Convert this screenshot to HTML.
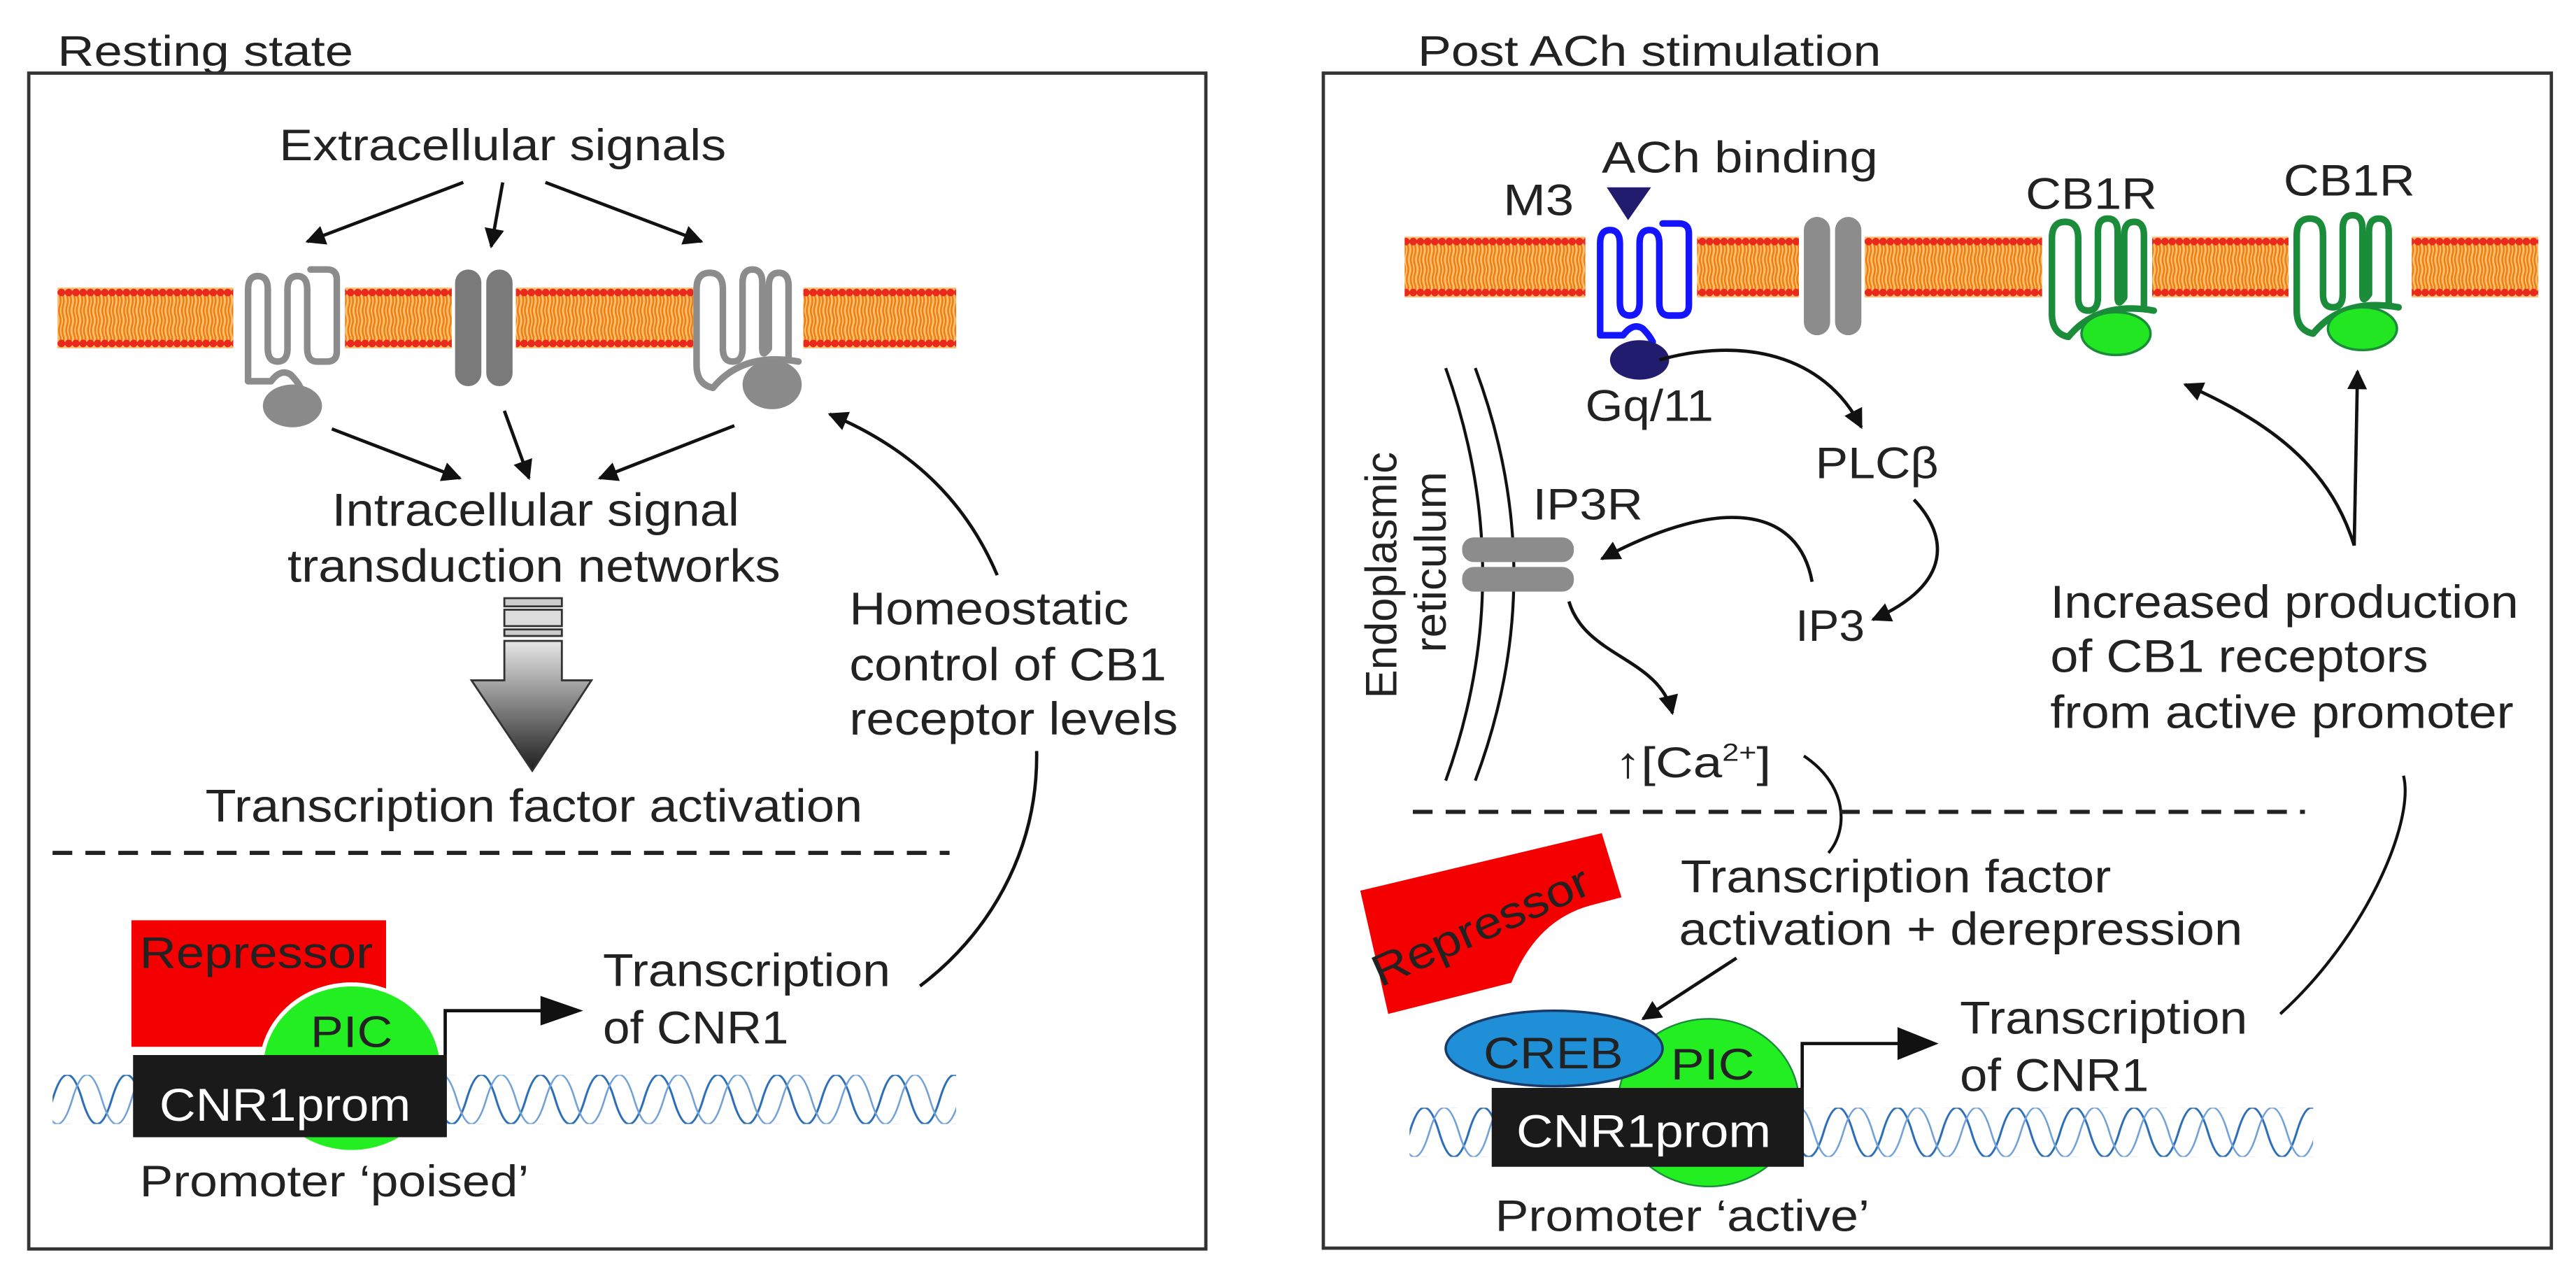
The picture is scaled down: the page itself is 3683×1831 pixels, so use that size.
<!DOCTYPE html>
<html><head><meta charset="utf-8"><style>
html,body{margin:0;padding:0;background:#fff;}
svg{display:block;}
text{font-family:"Liberation Sans",Arial,sans-serif;fill:#222;}
</style></head><body>
<svg width="3683" height="1831" viewBox="0 0 1568 779.5" preserveAspectRatio="none" xmlns="http://www.w3.org/2000/svg">
<defs>
<marker id="ah" viewBox="0 0 10 10" refX="9" refY="5" markerWidth="15" markerHeight="12" markerUnits="userSpaceOnUse" orient="auto"><path d="M0,0 L10,5 L0,10 z" fill="#111"/></marker>
<g id="memtile">
<rect width="4.4" height="37" fill="#f9c070"/>
<path d="M1.2,5 q1,3 0,6 q-1,3 0,6 q1,3 0,6 q-1,3 0,6 q1,2 0,4" stroke="#ef7d10" stroke-width="1.1" fill="none"/>
<path d="M3.2,5 q1,3 0,6 q-1,3 0,6 q1,3 0,6 q-1,3 0,6 q1,2 0,4" stroke="#ef7d10" stroke-width="1.1" fill="none"/>
<circle cx="2.2" cy="3" r="2.3" fill="#e8291c"/>
<circle cx="2.2" cy="34" r="2.3" fill="#e8291c"/>
</g>
<pattern id="mem1" x="0" y="175" width="4.4" height="37" patternUnits="userSpaceOnUse"><use href="#memtile"/></pattern>
<pattern id="mem2" x="0" y="144" width="4.4" height="37" patternUnits="userSpaceOnUse"><use href="#memtile"/></pattern>
<g id="dnatile">
<path d="M-36,15 Q-27,-15 -18,15 Q-9,45 0,15 Q9,-15 18,15 Q27,45 36,15 Q45,-15 54,15" stroke="#2a6db5" stroke-width="1.3" fill="none"/>
<path d="M-24,15 Q-15,-15 -6,15 Q3,45 12,15 Q21,-15 30,15 Q39,45 48,15" stroke="#6f9fd6" stroke-width="1.1" fill="none"/>
</g>
<pattern id="dnaL" x="32" y="654" width="36" height="30" patternUnits="userSpaceOnUse"><use href="#dnatile"/></pattern>
<pattern id="dnaR" x="858" y="674" width="36" height="30" patternUnits="userSpaceOnUse"><use href="#dnatile"/></pattern>
<linearGradient id="gr" x1="0" y1="0" x2="0" y2="1"><stop offset="0" stop-color="#e6e6e6"/><stop offset="1" stop-color="#1e1e1e"/></linearGradient>
<path id="recA" d="M4,70 V14 Q4,6 10,6 Q16,6 16,14 V50 Q16,58 22,58 Q28,58 28,50 V14 Q28,6 34,6 Q40,6 40,14 V50 Q40,58 46,58 H52 Q58,58 58,52 V8 Q58,2 52,2 H42 M4,70 H18 Q24,62 30,66 Q34,70 36,74" fill="none" stroke-width="4" stroke-linejoin="round" stroke-linecap="round"/>
<path id="recB" d="M12,74 Q2,72 2,60 V14 Q2,4 10,4 Q18,4 18,14 V50 Q18,58 24,58 Q30,58 30,50 V10 Q30,2 36,2 Q42,2 42,10 V50 Q42,56 46,50 V12 Q46,4 52,4 Q58,4 58,12 V56 M12,74 Q30,52 64,58" fill="none" stroke-width="4" stroke-linejoin="round" stroke-linecap="round"/>
</defs>

<!-- LEFT PANEL -->
<text x="35" y="40" font-size="26" textLength="180" lengthAdjust="spacingAndGlyphs">Resting state</text>
<rect x="17.5" y="44.5" width="716.5" height="715.5" fill="none" stroke="#333" stroke-width="2"/>
<text x="170" y="97.5" font-size="27" textLength="272" lengthAdjust="spacingAndGlyphs">Extracellular signals</text>
<g stroke="#111" stroke-width="2" fill="none" marker-end="url(#ah)">
<line x1="282" y1="111" x2="187" y2="147"/>
<line x1="306" y1="111" x2="299" y2="150"/>
<line x1="332" y1="111" x2="427" y2="147"/>
<line x1="202" y1="261" x2="280" y2="291"/>
<line x1="307" y1="250" x2="322" y2="291"/>
<line x1="447" y1="259" x2="365" y2="291"/>
<path d="M607,350 C590,310 560,275 505,252"/>
</g>
<path d="M631,457 C632,520 600,570 560,600" stroke="#111" stroke-width="2" fill="none"/>
<!-- membrane left -->
<rect x="35" y="175" width="107" height="37" fill="url(#mem1)"/>
<rect x="210" y="175" width="65" height="37" fill="url(#mem1)"/>
<rect x="314" y="175" width="108" height="37" fill="url(#mem1)"/>
<rect x="489" y="175" width="93" height="37" fill="url(#mem1)"/>
<use href="#recA" x="147" y="162" stroke="#8c8c8c"/>
<ellipse cx="178" cy="247" rx="18" ry="13" fill="#8a8a8a"/>
<rect x="277" y="164" width="16" height="71" rx="8" fill="#7a7a7a"/>
<rect x="296" y="164" width="16" height="71" rx="8" fill="#7a7a7a"/>
<use href="#recB" x="422" y="162" stroke="#8c8c8c"/>
<ellipse cx="470" cy="234" rx="18" ry="15" fill="#8a8a8a"/>

<text x="202" y="320" font-size="28" textLength="248" lengthAdjust="spacingAndGlyphs">Intracellular signal</text>
<text x="175" y="354" font-size="28" textLength="300" lengthAdjust="spacingAndGlyphs">transduction networks</text>
<g stroke="#333" stroke-width="1.2">
<rect x="307" y="364" width="35" height="5" fill="#ccc"/>
<rect x="307" y="371" width="35" height="10" fill="#ddd"/>
<rect x="307" y="383" width="35" height="4" fill="#ccc"/>
<path d="M307,390 H342 V414 H360 L324,469 L287,414 H307 Z" fill="url(#gr)"/>
</g>
<text x="517" y="380" font-size="28" textLength="170" lengthAdjust="spacingAndGlyphs">Homeostatic</text>
<text x="517" y="414" font-size="28" textLength="193" lengthAdjust="spacingAndGlyphs">control of CB1</text>
<text x="517" y="447" font-size="28" textLength="200" lengthAdjust="spacingAndGlyphs">receptor levels</text>
<text x="125" y="500" font-size="28" textLength="400" lengthAdjust="spacingAndGlyphs">Transcription factor activation</text>
<line x1="32" y1="519" x2="578" y2="519" stroke="#222" stroke-width="2.5" stroke-dasharray="12,8"/>
<rect x="32" y="654" width="550" height="30" fill="url(#dnaL)"/>
<rect x="80" y="560" width="155" height="77" fill="#f40000"/>
<text x="85" y="589" font-size="27" textLength="142" lengthAdjust="spacingAndGlyphs">Repressor</text>
<ellipse cx="214" cy="650" rx="55" ry="51" fill="#22ee22" stroke="#fff" stroke-width="2.5"/>
<text x="189" y="637" font-size="27" textLength="50" lengthAdjust="spacingAndGlyphs">PIC</text>
<rect x="81" y="642" width="191" height="50" fill="#1a1a1a"/>
<text x="97" y="682" font-size="28" textLength="153" lengthAdjust="spacingAndGlyphs" style="fill:#fff">CNR1prom</text>
<path d="M271,642 V615 H340" stroke="#111" stroke-width="2" fill="none"/>
<path d="M329,606 L355,615 L329,624 Z" fill="#111"/>
<text x="367" y="600" font-size="28" textLength="175" lengthAdjust="spacingAndGlyphs">Transcription</text>
<text x="367" y="635" font-size="28" textLength="113" lengthAdjust="spacingAndGlyphs">of CNR1</text>
<text x="85" y="728" font-size="27" textLength="237" lengthAdjust="spacingAndGlyphs">Promoter ‘poised’</text>

<!-- RIGHT PANEL -->
<text x="863" y="40" font-size="26" textLength="282" lengthAdjust="spacingAndGlyphs">Post ACh stimulation</text>
<rect x="805.5" y="44.5" width="747.5" height="715" fill="none" stroke="#333" stroke-width="2"/>
<text x="975" y="105" font-size="27" textLength="168" lengthAdjust="spacingAndGlyphs">ACh binding</text>
<text x="915" y="131" font-size="27" textLength="43" lengthAdjust="spacingAndGlyphs">M3</text>
<path d="M978,114 H1005 L991,134 Z" fill="#211c6e"/>
<text x="1233" y="127" font-size="27" textLength="80" lengthAdjust="spacingAndGlyphs">CB1R</text>
<text x="1390" y="119" font-size="27" textLength="80" lengthAdjust="spacingAndGlyphs">CB1R</text>
<rect x="855" y="144" width="110" height="37" fill="url(#mem2)"/>
<rect x="1033" y="144" width="62" height="37" fill="url(#mem2)"/>
<rect x="1135" y="144" width="108" height="37" fill="url(#mem2)"/>
<rect x="1310" y="144" width="83" height="37" fill="url(#mem2)"/>
<rect x="1468" y="144" width="77" height="37" fill="url(#mem2)"/>
<use href="#recA" x="970" y="134" stroke="#1414ff"/>
<ellipse cx="998" cy="219" rx="18" ry="12" fill="#211c6e"/>
<rect x="1098" y="132" width="16" height="72" rx="8" fill="#8c8c8c"/>
<rect x="1117" y="132" width="16" height="72" rx="8" fill="#8c8c8c"/>
<use href="#recB" x="1247" y="131" stroke="#1a8c3a"/>
<ellipse cx="1288" cy="203" rx="21" ry="13" fill="#22e622" stroke="#1a8c3a" stroke-width="1.5"/>
<use href="#recB" x="1396" y="129" stroke="#1a8c3a"/>
<ellipse cx="1438" cy="200" rx="21" ry="13" fill="#22e622" stroke="#1a8c3a" stroke-width="1.5"/>
<text x="965" y="256" font-size="27" textLength="78" lengthAdjust="spacingAndGlyphs">Gq/11</text>
<text x="1105" y="291" font-size="27" textLength="75" lengthAdjust="spacingAndGlyphs">PLCβ</text>
<g stroke="#111" stroke-width="1.8" fill="none">
<path d="M880,224 Q925,350 880,475"/>
<path d="M898,224 Q945,350 898,475"/>
</g>
<text transform="translate(850,350) rotate(-90)" text-anchor="middle" font-size="27" textLength="150" lengthAdjust="spacingAndGlyphs">Endoplasmic</text>
<text transform="translate(880,342) rotate(-90)" text-anchor="middle" font-size="27" textLength="110" lengthAdjust="spacingAndGlyphs">reticulum</text>
<text x="933" y="316" font-size="27" textLength="67" lengthAdjust="spacingAndGlyphs">IP3R</text>
<rect x="890" y="327" width="68" height="15" rx="7" fill="#8c8c8c"/>
<rect x="890" y="345" width="68" height="15" rx="7" fill="#8c8c8c"/>
<text x="1093" y="390" font-size="27" textLength="42" lengthAdjust="spacingAndGlyphs">IP3</text>
<g stroke="#111" stroke-width="2" fill="none" marker-end="url(#ah)">
<path d="M1010,219 C1060,205 1110,215 1133,260"/>
<path d="M1165,304 C1185,325 1190,355 1140,377"/>
<path d="M1103,354 C1095,310 1050,300 975,340"/>
<path d="M955,366 C965,400 1010,400 1018,434"/>
<path d="M1057,583 L1000,620"/>
<path d="M1433,332 L1435,226"/>
<path d="M1433,332 C1420,290 1390,260 1330,234"/>
</g>
<text x="983" y="473" font-size="26" textLength="95" lengthAdjust="spacingAndGlyphs">↑[Ca<tspan font-size="15" dy="-10">2+</tspan><tspan dy="10">]</tspan></text>
<path d="M1098,460 C1125,478 1125,505 1113,519" stroke="#111" stroke-width="1.8" fill="none"/>
<text x="1248" y="376" font-size="28" textLength="285" lengthAdjust="spacingAndGlyphs">Increased production</text>
<text x="1248" y="409" font-size="28" textLength="230" lengthAdjust="spacingAndGlyphs">of CB1 receptors</text>
<text x="1248" y="443" font-size="28" textLength="282" lengthAdjust="spacingAndGlyphs">from active promoter</text>
<line x1="860" y1="494" x2="1403" y2="494" stroke="#222" stroke-width="2.5" stroke-dasharray="12,8"/>
<path d="M1388,617 C1440,570 1470,500 1463,472" stroke="#111" stroke-width="1.8" fill="none"/>
<path d="M828,542 L975,507 L987,546 L968,551 Q935,560 920,598 L845,617 Z" fill="#f40000"/>
<text transform="translate(905,572) rotate(-24)" text-anchor="middle" font-size="27" textLength="142" lengthAdjust="spacingAndGlyphs">Repressor</text>
<text x="1023" y="543" font-size="28" textLength="262" lengthAdjust="spacingAndGlyphs">Transcription factor</text>
<text x="1022" y="575" font-size="28" textLength="343" lengthAdjust="spacingAndGlyphs">activation + derepression</text>
<rect x="858" y="674" width="550" height="30" fill="url(#dnaR)"/>
<ellipse cx="1040" cy="671" rx="55" ry="51" fill="#22ee22" stroke="#1a8c3a" stroke-width="1"/>
<ellipse cx="946" cy="638" rx="66" ry="23" fill="#1f8fd8" stroke="#1a3a6a" stroke-width="1.5"/>
<text x="903" y="650" font-size="27" textLength="85" lengthAdjust="spacingAndGlyphs">CREB</text>
<text x="1017" y="657" font-size="27" textLength="51" lengthAdjust="spacingAndGlyphs">PIC</text>
<rect x="908" y="662" width="190" height="48" fill="#1a1a1a"/>
<text x="923" y="698" font-size="28" textLength="155" lengthAdjust="spacingAndGlyphs" style="fill:#fff">CNR1prom</text>
<path d="M1097,662 V635 H1160" stroke="#111" stroke-width="2" fill="none"/>
<path d="M1155,625 L1180,635 L1155,645 Z" fill="#111"/>
<text x="1193" y="629" font-size="28" textLength="175" lengthAdjust="spacingAndGlyphs">Transcription</text>
<text x="1193" y="664" font-size="28" textLength="115" lengthAdjust="spacingAndGlyphs">of CNR1</text>
<text x="910" y="749" font-size="27" textLength="228" lengthAdjust="spacingAndGlyphs">Promoter ‘active’</text>
</svg>
</body></html>
